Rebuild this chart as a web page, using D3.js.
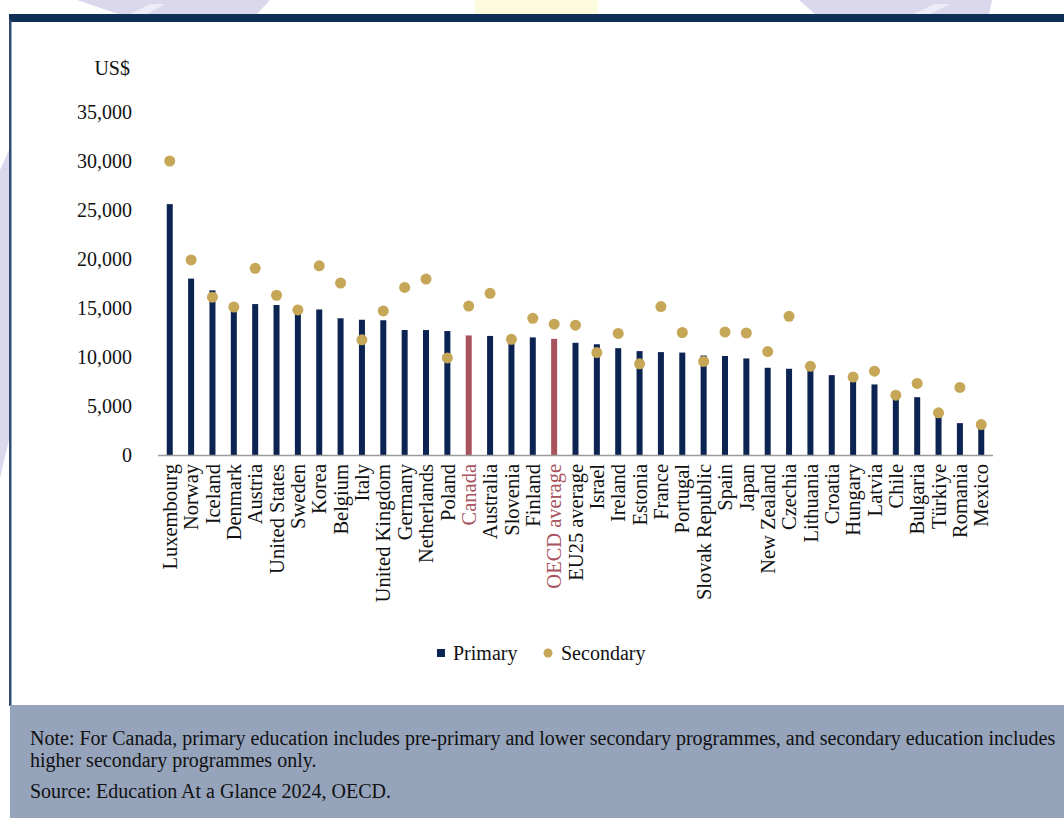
<!DOCTYPE html>
<html lang="en">
<head>
    <meta charset="UTF-8">
    <title>Spending per student</title>
    <script src="https://cdnjs.cloudflare.com/ajax/libs/d3/7.8.5/d3.min.js"></script>
    <style>
        body{
            margin:0;
            background:#fff;
        }
        svg{
            display:block;
            font-family:"Liberation Serif", "DejaVu Serif", serif;
        }
    </style>
</head>
<body>
    <svg id="chart" width="1064" height="818"></svg>
<script>

// data (US$ per student)
const categories = ["Luxembourg","Norway","Iceland","Denmark","Austria","United States","Sweden","Korea","Belgium","Italy",
    "United Kingdom","Germany","Netherlands","Poland","Canada","Australia","Slovenia","Finland","OECD average","EU25 average",
    "Israel","Ireland","Estonia","France","Portugal","Slovak Republic","Spain","Japan","New Zealand","Czechia",
    "Lithuania","Croatia","Hungary","Latvia","Chile","Bulgaria","Türkiye","Romania","Mexico"];

const primary = [25600,18000,16800,14900,15400,15300,14400,14850,13950,13800,
    13750,12750,12750,12650,12200,12150,11700,12000,11850,11450,
    11300,10900,10600,10500,10450,10150,10100,9850,8900,8800,
    8700,8150,7600,7200,5800,5900,3900,3250,2700];

const secondary = [30000,19900,16100,15100,19050,16300,14800,19300,17550,11750,
    14700,17100,17950,9900,15200,16500,11800,13950,13350,13250,
    10450,12400,9300,15150,12500,9550,12550,12450,10550,14150,
    9050,null,7950,8550,6100,7300,4300,6900,3100];

const highlighted = ["Canada","OECD average"];
const yTicks = [0,5000,10000,15000,20000,25000,30000,35000];
const legendItems = ["Primary","Secondary"];
const noteLines = [
    "Note: For Canada, primary education includes pre-primary and lower secondary programmes, and secondary education includes",
    "higher secondary programmes only.",
    "Source: Education At a Glance 2024, OECD."
];

const navy = "#0b2451", rose = "#a8535e", gold = "#c6a657";

const svg = d3.select("#chart");

// background watermark bits peeking out around the panel
const deco = svg.append("g");
deco.append("path").attr("d","M77,0 L270,0 L257,14 L118,14 Z").attr("fill","#dbd7ec");
deco.append("path").attr("d","M130,14 L150,4 L165,4 L147,14 Z").attr("fill","#eeecf6");
deco.append("rect").attr("x",475).attr("y",0).attr("width",123).attr("height",14).attr("fill","#fdfbdd");
deco.append("path").attr("d","M799,0 L992,0 L989,14 L815,14 Z").attr("fill","#dbd7ec");
deco.append("path").attr("d","M913,14 L935,4 L950,4 L930,14 Z").attr("fill","#eeecf6");
deco.append("path").attr("d","M0,170 L9,150 L9,440 L0,478 Z").attr("fill","#dbd7ec");

// panel frame
svg.append("rect").attr("x",9).attr("y",14).attr("width",1055).attr("height",8).attr("fill","#0f2f57");
svg.append("rect").attr("x",9).attr("y",20).attr("width",2.5).attr("height",686).attr("fill","#2e4d70");

// note box
svg.append("rect").attr("x",10).attr("y",705).attr("width",1054).attr("height",113).attr("fill","#95a3bb");
svg.append("g").selectAll("text")
    .data(noteLines)
    .join("text")
    .attr("x",30)
    .attr("y",(d,i)=>[745,767,798][i])
    .attr("font-size",20)
    .attr("fill","#111")
    .text(d=>d);

// scales
const x = d3.scalePoint()
    .domain(categories)
    .range([158,993])
    .padding(0.55);

const y = d3.scaleLinear()
    .domain([0,35000])
    .range([455,112]);

// y labels
svg.append("g").selectAll("text")
    .data(yTicks)
    .join("text")
    .attr("x",132)
    .attr("y",d=>y(d))
    .attr("dy","0.35em")
    .attr("text-anchor","end")
    .attr("font-size",20)
    .attr("fill","#111")
    .text(d=>d3.format(",")(d));

svg.append("text")
    .attr("x",130)
    .attr("y",68)
    .attr("dy","0.35em")
    .attr("text-anchor","end")
    .attr("font-size",20)
    .attr("fill","#111")
    .text("US$");

// bars
const barW = 6;
svg.append("g").selectAll("rect")
    .data(categories)
    .join("rect")
    .attr("x",d=>x(d)-barW/2)
    .attr("y",(d,i)=>y(primary[i]))
    .attr("width",barW)
    .attr("height",(d,i)=>y(0)-y(primary[i]))
    .attr("fill",d=>highlighted.includes(d) ? rose : navy);

// baseline
svg.append("line")
    .attr("x1",158).attr("x2",993)
    .attr("y1",y(0)+0.5).attr("y2",y(0)+0.5)
    .attr("stroke","#9a9a9a")
    .attr("stroke-width",1.5);

// secondary dots
svg.append("g").selectAll("circle")
    .data(categories.filter((d,i)=>secondary[i]!=null))
    .join("circle")
    .attr("cx",d=>x(d))
    .attr("cy",d=>y(secondary[categories.indexOf(d)]))
    .attr("r",5.5)
    .attr("fill",gold);

// category labels
svg.append("g").selectAll("text")
    .data(categories)
    .join("text")
    .attr("transform",d=>`translate(${x(d)},464) rotate(-90)`)
    .attr("dy","0.35em")
    .attr("text-anchor","end")
    .attr("font-size",20.5)
    .attr("fill",d=>highlighted.includes(d) ? rose : "#111")
    .text(d=>d);

// legend
const legend = svg.append("g");
legend.append("rect").attr("x",437).attr("y",649).attr("width",8).attr("height",8).attr("fill",navy);
legend.append("circle").attr("cx",548).attr("cy",653).attr("r",4.5).attr("fill",gold);
legend.selectAll("text")
    .data(legendItems)
    .join("text")
    .attr("x",(d,i)=>[453,561][i])
    .attr("y",653)
    .attr("dy","0.35em")
    .attr("font-size",20)
    .attr("fill","#111")
    .text(d=>d);

</script>
</body>
</html>
